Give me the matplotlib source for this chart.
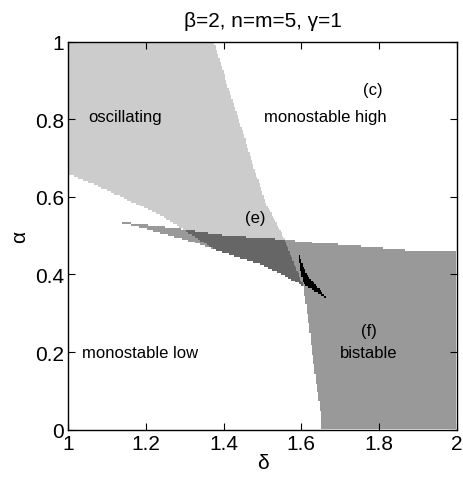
import numpy as np
import matplotlib
matplotlib.use("Agg")
import matplotlib.pyplot as plt
from matplotlib.path import Path
from matplotlib.colors import ListedColormap

plt.rcParams['font.family'] = ['Liberation Sans', 'DejaVu Sans']

# ---- data (delta, alpha) ----
# Hopf line (right edge of oscillating region), top to bottom
hopf_d = [1.375, 1.399, 1.427, 1.455, 1.481, 1.512, 1.553, 1.579, 1.605]
hopf_a = [1.000, 0.922, 0.835, 0.749, 0.664, 0.577, 0.499, 0.434, 0.370]
# lower edge of oscillating region (left part), left to right
osc_low_d = [1.000, 1.064, 1.151, 1.236, 1.296, 1.378]
osc_low_a = [0.659, 0.633, 0.594, 0.553, 0.517, 0.463]
# upper fold (top of bistable region), from cusp to right edge
up_d = [1.1155, 1.159, 1.296, 1.399, 1.502, 1.564, 1.605, 1.675, 1.734, 1.803, 1.881, 1.950, 2.000]
up_a = [0.5374, 0.533, 0.517, 0.502, 0.494, 0.491, 0.484, 0.479, 0.474, 0.468, 0.461, 0.458, 0.458]
# lower fold (bottom/left of bistable region), from cusp to bottom
lo_d = [1.1155, 1.167, 1.322, 1.378, 1.409, 1.494, 1.520, 1.553, 1.605, 1.610, 1.615, 1.623, 1.631, 1.641, 1.649, 1.651]
lo_a = [0.5374, 0.527, 0.484, 0.463, 0.453, 0.427, 0.414, 0.399, 0.370, 0.336, 0.303, 0.241, 0.174, 0.105, 0.046, 0.000]
# small black region near the cusp crossing
blk_d = [1.592, 1.600, 1.613, 1.667, 1.638, 1.607, 1.597]
blk_a = [0.463, 0.435, 0.401, 0.336, 0.355, 0.373, 0.414]

labels = ["oscillating", "monostable high", "(c)", "(e)", "monostable low", "(f)", "bistable"]
label_d = [1.146, 1.662, 1.785, 1.481, 1.185, 1.773, 1.773]
label_a = [0.806, 0.806, 0.878, 0.548, 0.200, 0.256, 0.200]

xticks = [1, 1.2, 1.4, 1.6, 1.8, 2]
xtick_labels = ["1", "1.2", "1.4", "1.6", "1.8", "2"]
yticks = [0, 0.2, 0.4, 0.6, 0.8, 1]
ytick_labels = ["0", "0.2", "0.4", "0.6", "0.8", "1"]

# ---- build region polygons ----
osc_poly = [(1.0, 1.0)] + list(zip(hopf_d, hopf_a))
seg = [(d, a) for d, a in zip(lo_d, lo_a) if 1.378 <= d < 1.605]
osc_poly += seg[::-1]
osc_poly += list(zip(osc_low_d, osc_low_a))[::-1]
bis_poly = list(zip(up_d, up_a)) + [(2.0, 0.0)] + list(zip(lo_d, lo_a))[::-1]
blk_poly = list(zip(blk_d, blk_a))

nx, ny = 300, 200
dd = np.linspace(1, 2, nx)
aa = np.linspace(0, 1, ny)
D, A = np.meshgrid(dd, aa)
pts = np.column_stack([D.ravel(), A.ravel()])
in_osc = Path(osc_poly).contains_points(pts).reshape(D.shape)
in_bis = Path(bis_poly).contains_points(pts).reshape(D.shape)
in_blk = Path(blk_poly).contains_points(pts).reshape(D.shape)

cls = np.zeros(D.shape, dtype=int)
cls[in_osc] = 1
cls[in_bis] = 2
cls[in_osc & in_bis] = 3
cls[in_blk] = 4

cmap = ListedColormap(['#ffffff', '#cccccc', '#999999', '#666666', '#000000'])

fig = plt.figure(figsize=(4.63, 4.81), dpi=100)
ax = fig.add_axes([0.1475, 0.1046, 0.8389, 0.8066])
ax.pcolormesh(dd, aa, cls, cmap=cmap, vmin=-0.5, vmax=4.5, shading='nearest')
ax.set_xlim(1, 2)
ax.set_ylim(0, 1)
ax.set_xticks(xticks)
ax.set_xticklabels(xtick_labels)
ax.set_yticks(yticks)
ax.set_yticklabels(ytick_labels)
ax.tick_params(direction='in', top=True, right=True, length=5, width=0.8,
               labelsize=15, pad=3)
for s in ax.spines.values():
    s.set_linewidth(1.0)
ax.set_xlabel("δ", fontsize=15, labelpad=0)
ax.set_ylabel("α", fontsize=15, labelpad=4)
ax.set_title("β=2, n=m=5, γ=1", fontsize=15, pad=11)

for t, d, a in zip(labels, label_d, label_a):
    ax.text(d, a, t, fontsize=12, ha='center', va='center')

fig.savefig("out.png", dpi=100)
